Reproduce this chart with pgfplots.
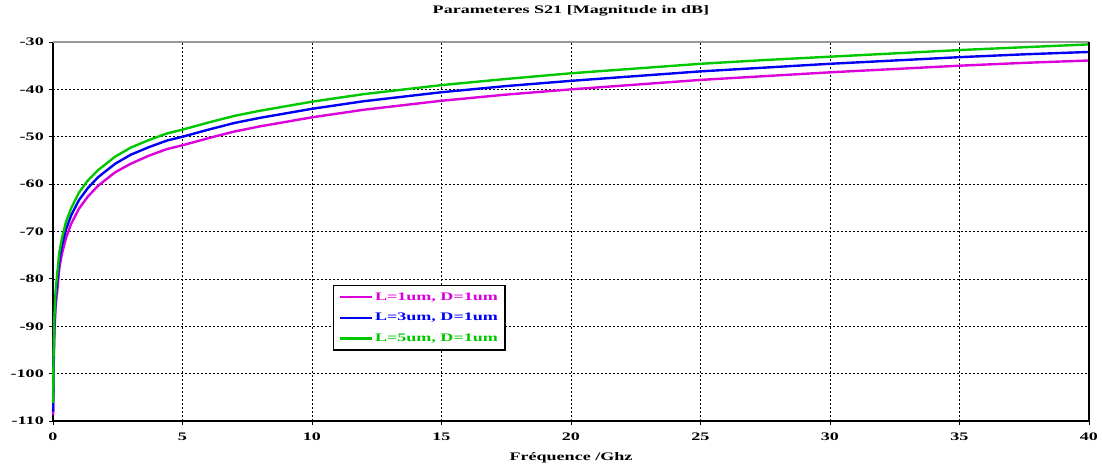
\documentclass[border=0pt]{standalone}
\usepackage{pgfplots}
\usepackage{pgfplotstable}
\pgfplotsset{compat=1.18}
\usepackage{fontspec}
\setmainfont{Liberation Serif}
\newfontfamily\chartfont[FakeStretch=1.57]{Liberation Serif}
\definecolor{curveMag}{RGB}{220,0,220}
\definecolor{curveBlue}{RGB}{0,0,245}
\definecolor{curveGreen}{RGB}{0,200,0}
\newcommand\lbl{\chartfont\bfseries\fontsize{11.5}{13}\selectfont}

% S21 magnitude (dB) versus frequency (GHz)
% m: L=1um, b: L=3um, g: L=5um (D=1um for all)
\pgfplotstableread{
f      m       b       g
0.007  -108.7  -108.0  -106.2
0.02   -99.9   -98.1   -96.6
0.05   -91.9   -90.1   -88.6
0.1    -85.9   -84.1   -82.6
0.17   -82.2   -80.2   -78.5
0.25   -77.5   -75.7   -74.2
0.35   -74.6   -72.8   -71.3
0.5    -71.4   -69.6   -68.0
0.7    -68.4   -66.6   -65.1
1.0    -65.2   -63.4   -61.8
1.35   -62.6   -60.8   -59.2
1.75   -60.3   -58.5   -57.0
2.4    -57.5   -55.7   -54.2
3.0    -55.7   -53.8   -52.3
3.7    -54.0   -52.2   -50.7
4.4    -52.6   -50.8   -49.3
5      -51.8   -50.0   -48.5
6      -50.3   -48.5   -47.0
7      -48.9   -47.1   -45.6
8      -47.8   -46.0   -44.5
10     -45.9   -44.1   -42.6
12     -44.3   -42.5   -41.0
15     -42.4   -40.6   -39.1
17.5   -41.1   -39.3   -37.8
20     -40.0   -38.2   -36.6
22.5   -39.0   -37.2   -35.6
25     -38.0   -36.2   -34.6
27.5   -37.2   -35.4   -33.8
30     -36.4   -34.6   -33.1
32.5   -35.7   -33.9   -32.4
35     -35.0   -33.2   -31.7
37.5   -34.4   -32.6   -31.1
40     -33.9   -32.1   -30.5
}\sparams

\begin{document}
\begin{tikzpicture}
\begin{axis}[
  at={(0,0)}, anchor=south west,
  scale only axis, width=1036pt, height=379pt,
  xmin=0, xmax=40, ymin=-110, ymax=-30,
  xtick={0,5,...,40}, ytick={-110,-100,...,-30},
  axis x line*=bottom, axis y line*=left,
  axis line style={line width=1.1pt, black, -},
  tick align=outside, major tick length=4pt,
  tick style={black, line width=0.8pt},
  grid=major,
  major grid style={black, line width=0.7pt, dash pattern=on 2pt off 2pt},
  /pgf/number format/assume math mode=true,
  ticklabel style={font=\lbl},
  xticklabel style={anchor=center, inner sep=0pt, yshift=-12pt},
  yticklabel style={anchor=east, inner sep=0pt, xshift=-5pt},
  title={Parameteres S21 [Magnitude in dB]},
  title style={font=\lbl, at={(0.5,1)}, anchor=center, yshift=25pt},
  xlabel={Fréquence /Ghz},
  xlabel style={font=\lbl, at={(0.5,0)}, anchor=center, yshift=-37pt},
  clip=false,
  legend style={at={(0.2703,0.3588)}, anchor=north west, draw=black,
    line width=1.2pt, font=\lbl, inner xsep=5pt, inner ysep=5pt,
    row sep=7.5pt, cells={anchor=west}},
  legend image code/.code={\draw[#1] (0pt,0pt) -- (32pt,0pt);},
]
\addplot[curveMag, line width=2.4pt] table[x=f, y=m] {\sparams};
\addlegendentry{\textcolor{curveMag}{L=1um, D=1um}}
\addplot[curveBlue, line width=2.4pt] table[x=f, y=b] {\sparams};
\addlegendentry{\textcolor{curveBlue}{L=3um, D=1um}}
\addplot[curveGreen, line width=2.4pt] table[x=f, y=g] {\sparams};
\addlegendentry{\textcolor{curveGreen}{L=5um, D=1um}}
% remaining frame sides
\draw[gray!80, line width=1.3pt] (rel axis cs:0,1) -- (rel axis cs:1,1);
\draw[black, line width=1.1pt] (rel axis cs:1,0) -- (rel axis cs:1,1);
\end{axis}
\pgfresetboundingbox
\path (-53pt,-47pt) rectangle (1049pt,421pt);
\end{tikzpicture}
\end{document}
